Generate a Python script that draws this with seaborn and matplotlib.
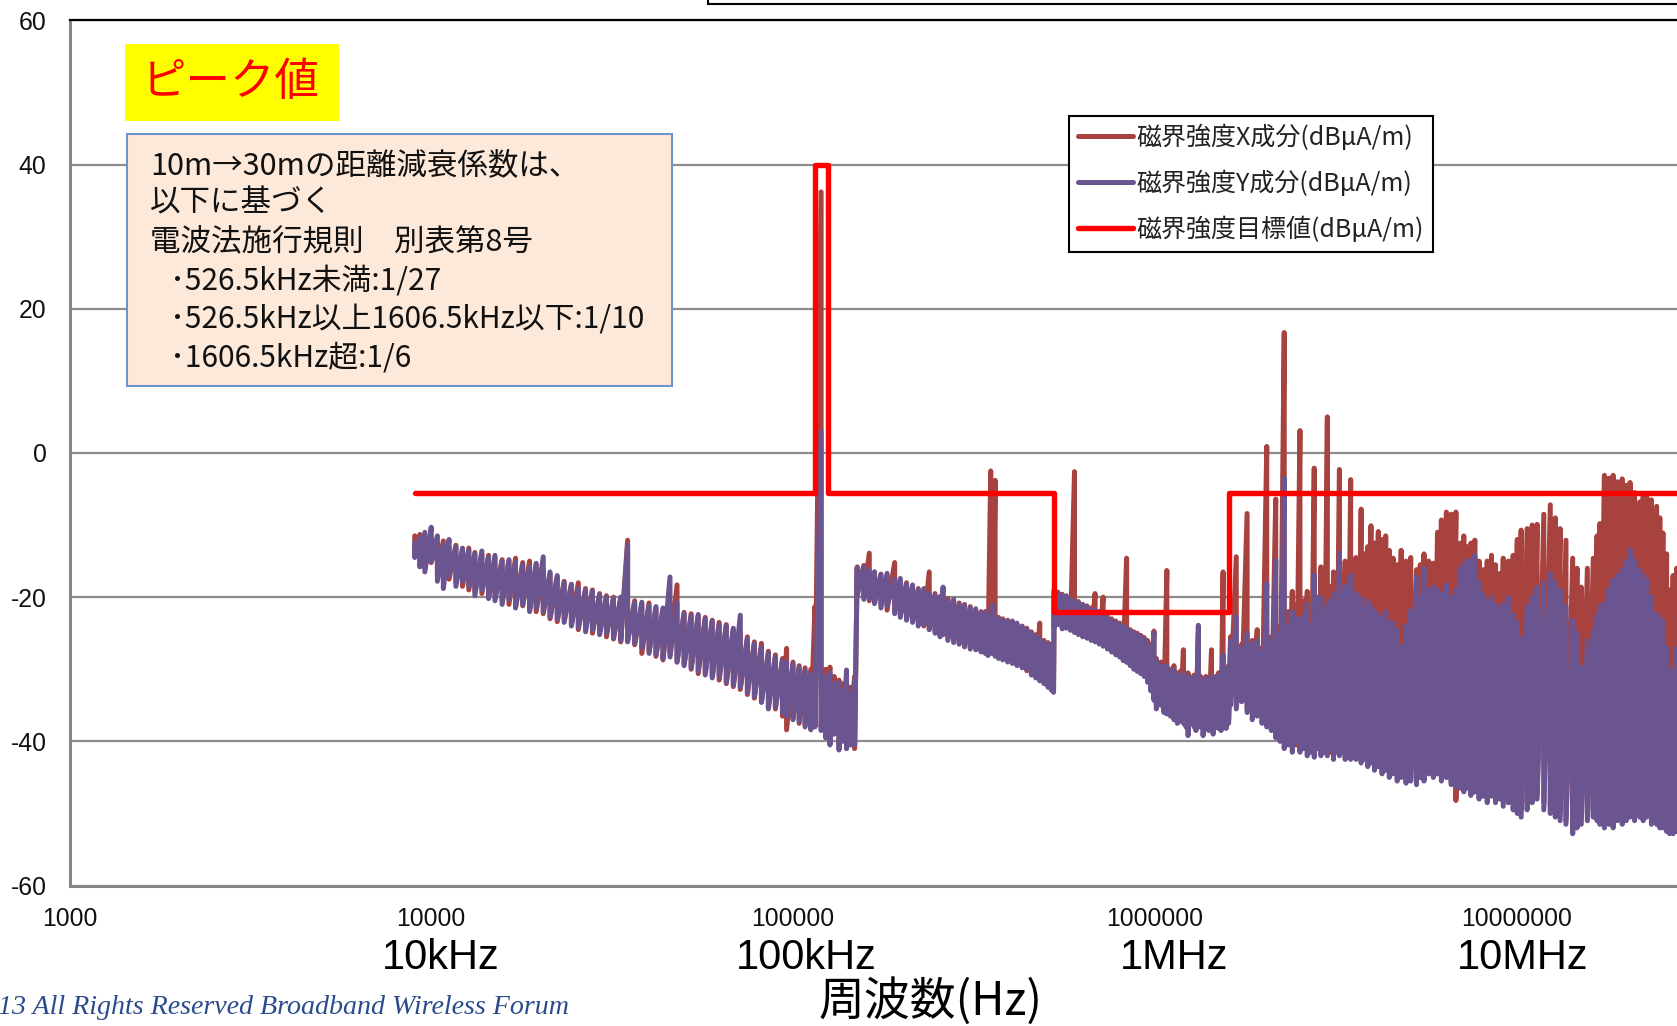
import numpy as np
import pandas as pd
import matplotlib
matplotlib.use("Agg")
import matplotlib.pyplot as plt
import matplotlib.transforms as mtransforms
import seaborn as sns
from matplotlib import font_manager
from matplotlib.lines import Line2D
from matplotlib.patches import Rectangle
from matplotlib.ticker import FixedLocator, FixedFormatter, NullLocator

# ---------------- data ----------------
# frequency samples in kHz; for each sample the high and low excursion (dBuA/m)
FREQ_KHZ = [
    9.0, 9.3, 9.6, 10.0, 10.4, 10.8, 11.2, 11.7, 12.2, 12.7, 13.2, 13.8, 14.4, 15.0, 15.7,
    16.4, 17.1, 17.9, 18.7, 19.5, 20.4, 21.3, 22.3, 23.3, 24.4, 25.5, 26.7, 27.9, 29.2, 30.5,
    31.9, 33.4, 34.9, 36.5, 38.2, 40.0, 41.8, 43.7, 45.7, 47.8, 50.0, 52.3, 54.7, 57.2, 59.8,
    62.5, 65.4, 68.4, 71.5, 74.8, 78.2, 81.8, 85.5, 89.4, 93.5, 96.0, 100, 104, 108, 112,
    115, 119.6, 123, 126.5, 130, 134, 137, 140.6, 144, 148,
    150.5, 157, 162.5, 168, 175, 182, 191, 198, 206, 214, 222, 230, 238, 247, 255,
    260, 268, 278, 288, 298, 309, 320, 331, 340, 346, 352, 357, 362, 370, 380,
    392, 404, 416, 430, 443, 456, 469, 481, 494, 507, 518, 525,
    527.5, 540, 555, 570, 585, 600, 615, 632, 650, 667, 684, 702, 720, 740, 760,
    780, 800, 818, 836, 855, 875, 895, 915, 935, 955, 975, 995, 1010, 1040, 1060,
    1080, 1105, 1130, 1155, 1180, 1200, 1220, 1236, 1260, 1285, 1300, 1320, 1340, 1360, 1385,
    1410, 1435, 1450, 1475, 1500, 1525, 1545, 1575, 1600,
    1620, 1680, 1740, 1800, 1860, 1920, 1980, 2040, 2100, 2160, 2220, 2280, 2340, 2400, 2460,
    2520, 2580, 2640, 2700, 2760, 2820, 2880, 2940, 3000, 3060, 3120, 3180, 3240, 3300, 3360,
    3420, 3480, 3540, 3600, 3660, 3720, 3800, 3880, 3960, 4050, 4150, 4250, 4350, 4450, 4560,
    4680, 4800, 4950, 5100, 5290, 5420, 5550, 5720, 5890, 6050, 6200, 6400, 6600, 6800, 7000,
    7150, 7300, 7480, 7670, 7880, 8090, 8300, 8530, 8750, 9000, 9190, 9500, 9790, 10050, 10300,
    10700, 11050, 11400, 11900, 12400, 12800, 13200, 13700, 14300, 14700, 15100, 15700, 16300, 16700, 17000,
    17500, 18000, 18500, 19000, 19600, 20100, 20600, 21200, 21900, 22400, 22900, 23600, 24400, 24900, 25400,
    26000, 26500, 27100, 27700, 28500,
]
X_HI = [
    -11.5, -11.3, -12.0, -11.8, -12.5, -12.2, -13.0, -12.8, -13.5, -13.2, -13.8, -14.0, -14.2, -14.5, -14.8,
    -15.0, -14.6, -15.2, -15.0, -15.5, -16.0, -16.8, -17.2, -17.8, -18.3, -18.0, -18.8, -19.0, -19.5, -19.8,
    -20.0, -20.2, -12.1, -20.5, -21.0, -20.8, -21.5, -21.8, -20.5, -18.3, -22.1, -22.3, -22.6, -22.8, -23.2,
    -23.5, -23.8, -24.5, -25.0, -25.5, -26.2, -26.4, -27.5, -28.0, -28.5, -27.1, -29.0, -29.5, -29.8, -30.0,
    -21.3, 36.2, -30.0, -29.7, -31.0, -31.5, -32.0, -31.5, -32.5, -31.0,
    -15.8, -15.6, -13.9, -16.5, -16.8, -17.0, -15.2, -17.8, -18.0, -18.5, -18.8, -19.0, -16.5, -19.5, -20.0,
    -19.8, -20.2, -20.5, -20.8, -21.0, -21.3, -21.8, -22.0, -22.2, -22.5, -2.5, -20.5, -3.8, -22.8, -23.0,
    -23.2, -23.5, -23.8, -24.0, -24.3, -24.8, -25.2, -23.6, -26.0, -26.3, -26.6, -27.0,
    -19.0, -19.3, -19.6, -20.0, -20.2, -2.6, -20.6, -21.0, -21.2, -21.5, -19.5, -22.0, -20.0, -22.7, -23.0,
    -23.3, -23.6, -23.9, -14.6, -24.5, -24.8, -25.0, -25.3, -25.6, -26.0, -26.5, -24.7, -28.5, -29.0, -29.5,
    -16.3, -30.0, -29.5, -30.5, -30.2, -27.3, -31.0, -30.5, -31.2, -30.8, -31.5, -25.0, -31.0, -31.5, -31.0,
    -31.5, -27.3, -31.5, -31.0, -30.5, -30.8, -16.5, -30.0, -29.5,
    -25.5, -14.4, -26.5, -8.4, -26.0, -24.5, -27.0, 0.9, -25.5, -6.4, -24.0, 16.7, -22.0, -19.2, -21.0,
    3.1, -20.5, -19.2, -22.0, -2.1, -20.0, -15.8, -19.0, 5.0, -18.5, -16.5, -18.0, -2.3, -17.0, -15.0,
    -16.5, -3.7, -16.0, -14.5, -15.5, -7.8, -14.0, -13.0, -10.1, -12.5, -10.9, -12.0, -11.5, -13.5, -14.6,
    -15.5, -13.5, -15.0, -14.5, -16.2, -15.5, -14.0, -15.0, -15.3, -11.0, -9.3, -8.2, -8.5, -8.2, -12.5,
    -11.5, -13.0, -12.5, -12.1, -15.0, -16.2, -15.0, -14.2, -15.5, -16.7, -14.6, -15.0, -14.2, -12.0, -10.7,
    -10.5, -10.0, -9.9, -8.5, -7.2, -9.0, -10.5, -12.1, -14.6, -16.0, -18.6, -16.0, -14.6, -11.5, -9.8,
    -3.1, -3.5, -3.1, -4.0, -3.6, -4.5, -4.1, -5.5, -6.8, -6.0, -5.8, -6.5, -7.4, -9.0, -11.1,
    -14.0, -19.0, -17.0, -16.0, -16.0,
]
X_LO = [
    -14.0, -15.5, -16.0, -15.2, -17.0, -16.5, -17.5, -18.0, -18.5, -19.0, -19.2, -19.5, -20.0, -19.8, -20.5,
    -21.0, -21.3, -21.2, -21.8, -22.0, -22.3, -23.0, -23.4, -23.0, -23.8, -24.5, -24.0, -25.0, -24.8, -25.5,
    -25.8, -26.2, -26.0, -26.6, -27.8, -27.5, -28.2, -28.7, -27.8, -29.0, -29.3, -30.0, -30.6, -30.5, -31.0,
    -31.5, -32.0, -32.4, -32.8, -33.5, -34.0, -34.5, -35.2, -35.5, -36.5, -38.4, -36.8, -37.5, -37.8, -38.0,
    -37.5, -38.0, -39.0, -40.0, -38.5, -40.5, -39.5, -41.0, -40.0, -41.0,
    -19.5, -20.0, -20.5, -20.3, -21.0, -21.8, -22.0, -22.5, -23.0, -23.3, -23.5, -24.0, -24.5, -24.8, -25.3,
    -25.2, -25.8, -26.0, -26.5, -26.8, -27.0, -27.0, -27.5, -27.6, -28.0, -27.8, -27.5, -28.0, -28.3, -28.6,
    -28.8, -29.0, -29.3, -29.7, -30.2, -30.6, -31.0, -31.5, -31.8, -32.3, -32.6, -33.0,
    -24.0, -23.5, -24.2, -24.0, -24.5, -24.8, -25.0, -25.2, -25.5, -25.8, -26.0, -26.3, -26.6, -27.0, -27.5,
    -27.8, -28.2, -28.6, -29.0, -29.3, -29.8, -30.2, -30.5, -30.8, -31.5, -32.5, -34.0, -35.0, -34.8, -35.5,
    -35.8, -36.0, -36.5, -36.8, -37.0, -37.0, -37.5, -37.8, -37.0, -37.5, -37.8, -37.5, -37.5, -38.0, -37.5,
    -37.8, -37.5, -38.0, -37.5, -37.8, -38.0, -37.5, -37.5, -37.0,
    -34.0, -35.0, -33.5, -35.5, -36.0, -35.5, -36.5, -37.0, -37.5, -38.0, -39.0, -38.5, -40.0, -39.5, -40.5,
    -40.0, -40.5, -40.0, -41.0, -40.5, -41.0, -40.5, -41.0, -40.5, -41.5, -41.0, -40.5, -41.5, -41.0, -41.5,
    -41.0, -42.0, -41.0, -42.0, -41.5, -42.0, -41.5, -42.5, -42.0, -43.0, -42.5, -43.5, -43.0, -44.0, -43.5,
    -44.5, -44.0, -44.5, -45.0, -44.5, -45.0, -44.0, -43.5, -44.0, -44.5, -44.0, -45.0, -45.5, -48.2, -45.5,
    -46.0, -46.5, -46.0, -47.0, -46.5, -47.5, -47.0, -47.5, -48.0, -47.5, -48.0, -48.5, -48.0, -49.0, -49.5,
    -48.5, -48.0, -47.5, -48.5, -49.0, -49.5, -50.0, -51.0, -51.5, -51.0, -50.5, -50.0, -49.5, -50.0, -50.5,
    -51.0, -50.5, -51.0, -50.5, -50.5, -50.0, -49.5, -50.0, -49.5, -50.0, -49.5, -50.0, -50.5, -51.0, -51.0,
    -51.5, -51.5, -52.0, -51.5, -51.5,
]
Y_HI = [
    -12.5, -11.8, -11.0, -10.3, -11.5, -12.8, -12.0, -13.0, -13.2, -13.5, -14.0, -13.6, -14.5, -14.2, -15.0,
    -14.8, -15.2, -15.5, -15.8, -15.3, -14.4, -16.5, -17.0, -18.0, -18.2, -18.8, -19.0, -19.2, -19.7, -20.0,
    -20.2, -20.0, -12.8, -20.8, -20.7, -21.2, -21.3, -21.5, -17.2, -20.8, -22.3, -22.6, -22.4, -23.0, -23.3,
    -23.8, -24.0, -24.3, -22.5, -25.8, -26.5, -27.0, -27.8, -28.3, -28.8, -29.0, -29.3, -29.8, -30.2, -30.6,
    -30.5, 2.9, -31.0, -30.5, -32.0, -31.8, -33.0, -30.1, -33.5, -31.5,
    -16.0, -15.8, -16.3, -16.5, -16.9, -16.7, -17.5, -17.4, -18.2, -18.3, -19.0, -18.8, -19.5, -19.8, -19.9,
    -18.6, -20.5, -20.3, -21.0, -21.2, -21.5, -21.6, -22.2, -22.0, -22.6, -23.0, -21.1, -22.8, -23.0, -23.2,
    -23.4, -23.3, -23.6, -24.1, -24.5, -25.0, -25.3, -25.8, -26.2, -26.5, -26.9, -27.0,
    -19.2, -19.5, -19.8, -19.8, -20.3, -20.5, -20.8, -21.0, -21.4, -21.7, -21.8, -22.0, -22.4, -22.8, -23.2,
    -23.5, -23.8, -24.0, -24.3, -24.6, -25.0, -25.2, -25.5, -25.8, -26.5, -27.0, -25.0, -28.8, -29.5, -30.0,
    -29.5, -30.5, -30.0, -31.0, -30.8, -30.5, -31.5, -31.0, -31.5, -31.0, -31.8, -23.9, -31.5, -32.0, -31.2,
    -32.0, -31.0, -32.0, -31.2, -30.8, -31.0, -28.0, -30.5, -29.8,
    -26.0, -22.7, -27.0, -25.0, -26.5, -26.0, -27.5, -18.1, -26.0, -14.9, -25.0, -3.5, -24.0, -22.0, -23.0,
    -23.0, -22.5, -21.0, -24.0, -16.9, -23.0, -20.0, -22.0, -20.9, -20.5, -19.5, -21.0, -13.9, -20.0, -18.5,
    -19.0, -17.0, -20.0, -19.5, -21.0, -20.2, -21.5, -20.5, -21.3, -22.0, -22.5, -23.0, -22.0, -23.5, -23.6,
    -24.5, -26.9, -24.0, -21.8, -17.2, -20.0, -16.0, -19.0, -18.6, -19.0, -19.5, -18.3, -20.0, -19.0, -16.0,
    -15.5, -14.9, -15.0, -14.2, -18.0, -19.5, -20.5, -20.0, -21.0, -21.5, -21.0, -20.0, -22.5, -23.5, -25.7,
    -21.3, -20.0, -18.6, -18.0, -16.7, -18.0, -19.0, -21.3, -23.2, -25.0, -29.7, -26.0, -24.8, -22.5, -21.3,
    -20.9, -19.0, -17.6, -17.0, -16.2, -15.0, -13.4, -15.0, -16.2, -17.0, -17.6, -20.0, -22.3, -23.0, -23.4,
    -27.0, -33.4, -30.0, -27.1, -27.0,
]
Y_LO = [
    -14.5, -15.8, -16.5, -15.0, -17.8, -18.8, -17.0, -18.5, -17.8, -18.5, -19.8, -19.0, -20.2, -20.5, -21.0,
    -20.3, -21.5, -21.0, -22.0, -21.5, -22.0, -22.8, -23.0, -23.5, -24.0, -24.2, -24.8, -24.5, -25.2, -25.0,
    -25.6, -26.0, -26.2, -26.4, -27.0, -27.8, -28.0, -28.5, -28.3, -29.0, -29.5, -29.8, -30.3, -30.8, -31.2,
    -31.0, -31.8, -32.2, -32.5, -33.2, -33.8, -34.6, -35.5, -35.2, -36.0, -36.5, -37.0, -37.2, -38.0, -38.4,
    -38.0, -38.5, -39.5, -40.5, -39.0, -41.2, -40.0, -41.0, -40.5, -40.5,
    -19.8, -20.3, -20.2, -20.9, -21.5, -21.2, -22.3, -22.8, -23.2, -23.5, -24.0, -23.8, -24.5, -25.0, -25.5,
    -25.0, -26.0, -26.3, -26.5, -26.9, -27.2, -27.3, -27.6, -27.8, -28.1, -27.5, -27.8, -28.2, -28.5, -28.7,
    -29.0, -29.2, -29.5, -29.8, -30.0, -30.8, -31.2, -31.6, -32.0, -32.5, -32.9, -33.2,
    -24.1, -23.8, -24.4, -24.3, -24.6, -24.9, -25.2, -25.5, -25.7, -26.0, -26.2, -26.5, -26.8, -27.2, -27.6,
    -28.0, -28.3, -28.8, -29.0, -29.5, -30.0, -30.3, -30.6, -31.0, -31.8, -33.0, -34.3, -35.5, -35.0, -36.0,
    -36.2, -36.5, -37.0, -37.5, -37.2, -37.5, -38.0, -39.2, -37.5, -38.0, -38.5, -38.0, -38.0, -39.2, -38.0,
    -38.5, -38.0, -39.0, -38.0, -38.2, -38.5, -38.0, -38.2, -37.5,
    -35.0, -35.5, -34.5, -36.0, -37.0, -36.5, -37.5, -38.0, -38.5, -39.5, -40.0, -41.0, -40.5, -41.5, -40.0,
    -41.5, -41.0, -42.0, -41.5, -42.2, -41.0, -42.0, -41.5, -42.0, -41.0, -42.5, -41.5, -42.0, -41.5, -42.5,
    -41.5, -42.5, -42.0, -42.5, -42.0, -43.0, -42.5, -43.5, -43.0, -44.0, -43.5, -44.5, -44.0, -45.0, -44.5,
    -45.5, -45.0, -45.8, -45.5, -46.0, -45.0, -45.5, -44.5, -45.0, -44.5, -45.5, -45.0, -46.0, -46.3, -46.5,
    -47.0, -46.0, -47.5, -47.0, -48.0, -47.6, -48.5, -47.6, -48.5, -48.0, -49.0, -48.5, -49.5, -50.0, -50.5,
    -49.5, -48.5, -48.0, -49.5, -50.0, -50.5, -51.0, -51.5, -52.8, -52.0, -51.5, -51.0, -50.5, -51.0, -51.5,
    -52.0, -51.5, -52.0, -51.0, -51.5, -51.0, -50.5, -51.0, -50.5, -51.0, -50.5, -51.5, -51.5, -52.0, -52.0,
    -52.5, -52.8, -52.8, -52.5, -52.5,
]

# target (limit) line: band edges in kHz and level in dBuA/m
TARGET_KHZ = [9, 115, 115, 125, 125, 526.5, 526.5, 1606.5, 1606.5, 30000]
TARGET_DB = [-5.5, -5.5, 40, 40, -5.5, -5.5, -22, -22, -5.5, -5.5]

SERIES_NAMES = ["磁界強度X成分(dBμA/m)", "磁界強度Y成分(dBμA/m)", "磁界強度目標値(dBμA/m)"]
XTICKS = [1e3, 1e4, 1e5, 1e6, 1e7]
XTICK_LABELS = ["1000", "10000", "100000", "1000000", "10000000"]
YTICKS = [-60, -40, -20, 0, 20, 40, 60]
YTICK_LABELS = ["-60", "-40", "-20", "0", "20", "40", "60"]
BAND_TEXT = ["10kHz", "100kHz", "1MHz", "10MHz"]
NOTE_LINES = ["10m→30mの距離減衰係数は、", "以下に基づく", "電波法施行規則　別表第8号"]
NOTE_BULLETS = ["･526.5kHz未満:1/27", "･526.5kHz以上1606.5kHz以下:1/10", "･1606.5kHz超:1/6"]
BADGE_TEXT = "ピーク値"
XLABEL = "周波数(Hz)"
FOOTER = "13 All Rights Reserved Broadband Wireless Forum"

assert len(FREQ_KHZ) == len(X_HI) == len(X_LO) == len(Y_HI) == len(Y_LO)

# ---------------- style ----------------
sns.set_style("white")
names = {f.name for f in font_manager.fontManager.ttflist}
NARROW = "Liberation Sans Narrow" in names
LATIN = "Liberation Sans Narrow" if NARROW else "Liberation Sans"
CJK = "Noto Sans CJK JP"
plt.rcParams["font.family"] = [CJK, "DejaVu Sans"]
plt.rcParams["axes.unicode_minus"] = False
plt.rcParams["path.simplify"] = False

TICK_FS = 20 if NARROW else 17.8
BAND_FS = 36 if NARROW else 30

C_X = "#A8423F"
C_Y = "#6B5590"
C_T = "#FF0000"
LW = 3.6

W, H = 1677, 1026
fig = plt.figure(figsize=(W / 100, H / 100), dpi=100)
fig.patch.set_facecolor("white")

x0_px, y_top_px, y_bot_px = 69.5, 20.3, 885.6
dec_px = 361.75
ax = fig.add_axes([x0_px / W, (H - y_bot_px) / H, 1 - x0_px / W, (y_bot_px - y_top_px) / H])
ax.set_facecolor("white")


def trace(freq_khz, lo, hi):
    """Each reading is a vertical excursion from its high to its low value."""
    xs, ys = [], []
    for f, l, h in zip(freq_khz, lo, hi):
        xs += [f * 1000.0, f * 1000.0]
        ys += [h, l]
    return xs, ys


xs, ys = trace(FREQ_KHZ, X_LO, X_HI)
df_x = pd.DataFrame({"freq": xs, "level": ys})
xs, ys = trace(FREQ_KHZ, Y_LO, Y_HI)
df_y = pd.DataFrame({"freq": xs, "level": ys})
df_t = pd.DataFrame({"freq": np.array(TARGET_KHZ) * 1000.0, "level": TARGET_DB})

common = dict(sort=False, estimator=None, legend=False, ax=ax,
              solid_joinstyle="round", solid_capstyle="round")
sns.lineplot(data=df_x, x="freq", y="level", color=C_X, linewidth=LW, zorder=3, **common)
sns.lineplot(data=df_y, x="freq", y="level", color=C_Y, linewidth=LW, zorder=4, **common)
sns.lineplot(data=df_t, x="freq", y="level", color=C_T, linewidth=3.9, zorder=5, **common)

ax.set_xscale("log")
ax.set_xlim(1000, 10 ** (3 + (W - x0_px) / dec_px))
ax.set_ylim(-60, 60)
ax.xaxis.set_major_locator(FixedLocator(XTICKS))
ax.xaxis.set_major_formatter(FixedFormatter(XTICK_LABELS))
ax.xaxis.set_minor_locator(NullLocator())
ax.yaxis.set_major_locator(FixedLocator(YTICKS))
ax.yaxis.set_major_formatter(FixedFormatter(YTICK_LABELS))
ax.set_xlabel("")
ax.set_ylabel("")

ax.tick_params(axis="both", which="major", direction="out", length=7.5, width=1.5,
               color="#868686", labelsize=TICK_FS, labelcolor="#111111")
ax.tick_params(axis="x", pad=8)
ax.tick_params(axis="y", pad=9)
for lab in ax.get_xticklabels() + ax.get_yticklabels():
    lab.set_family([LATIN, "DejaVu Sans"])

ax.grid(False)
ax.yaxis.grid(True, color="#8C8C8C", linewidth=1.6, zorder=0)
ax.set_axisbelow(True)
for side in ["left", "bottom"]:
    ax.spines[side].set_color("#868686")
    ax.spines[side].set_linewidth(2.2)
ax.spines["top"].set_color("black")
ax.spines["top"].set_linewidth(1.6)
ax.spines["right"].set_visible(False)

# legend
handles = [Line2D([], [], color=c, linewidth=lw, solid_capstyle="round")
           for c, lw in [(C_X, LW), (C_Y, LW), (C_T, 3.9)]]
leg = ax.legend(handles, SERIES_NAMES, loc="upper left",
                bbox_to_anchor=(1069 / W, 1 - 115.5 / H), bbox_transform=fig.transFigure,
                frameon=True, fancybox=False, framealpha=1, edgecolor="black",
                prop={"family": [CJK, "DejaVu Sans"], "size": 18},
                handlelength=2.2, handletextpad=0.15, labelspacing=0.78,
                borderpad=0.36, borderaxespad=0)
leg.get_frame().set_linewidth(1.5)
leg.set_zorder(10)
for t in leg.get_texts():
    t.set_color("#222222")

# band labels under the axis
blend = mtransforms.blended_transform_factory(ax.transData, fig.transFigure)
for lab, f in zip(BAND_TEXT, [1.06e4, 1.086e5, 1.13e6, 1.04e7]):
    ax.text(f, 1 - 958 / H, lab, transform=blend, ha="center", va="center",
            fontsize=BAND_FS, family=[LATIN, "DejaVu Sans"], color="black", clip_on=False)

# axis title
fig.text(931 / W, 1 - 1002 / H, XLABEL, ha="center", va="center", fontsize=33,
         family=[CJK, "DejaVu Sans"], color="black")

# footer
fig.text(-0.001, 1 - 1008 / H, FOOTER, ha="left", va="center", fontsize=20.2,
         family=["Liberation Serif", "DejaVu Serif"], style="italic", color="#2B4C8C")

# yellow badge
fig.add_artist(Rectangle((125 / W, 1 - 121 / H), 214 / W, 77 / H, transform=fig.transFigure,
                         facecolor="#FFFF00", edgecolor="none", zorder=6))
fig.text(231 / W, 1 - 82 / H, BADGE_TEXT, ha="center", va="center", fontsize=32,
         color="#FF0000", family=[CJK, "DejaVu Sans"], zorder=7)

# note box
fig.add_artist(Rectangle((127 / W, 1 - 386 / H), 545 / W, 252 / H, transform=fig.transFigure,
                         facecolor="#FDE9D9", edgecolor="#6D93C8", linewidth=1.5, zorder=6))
for line, yc in zip(NOTE_LINES, [166, 203, 242]):
    fig.text(150 / W, 1 - yc / H, line, ha="left", va="center", fontsize=22,
             color="#111111", family=[CJK, "DejaVu Sans"], zorder=7)
for line, yc in zip(NOTE_BULLETS, [281, 320, 358]):
    fig.text(170 / W, 1 - yc / H, line, ha="left", va="center", fontsize=21.5,
             color="#111111", family=[CJK, "DejaVu Sans"], zorder=7)

# top box fragment
fig.add_artist(Rectangle((708 / W, 1 - 4 / H), 1000 / W, 40 / H, transform=fig.transFigure,
                         facecolor="white", edgecolor="black", linewidth=1.5, zorder=6))

fig.savefig("out.png", dpi=100, facecolor="white")
